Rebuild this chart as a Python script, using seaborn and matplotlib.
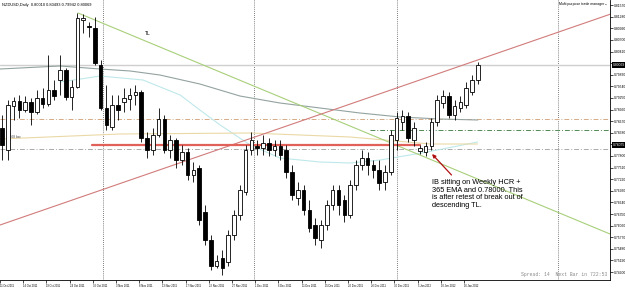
import matplotlib
matplotlib.use("Agg")
import matplotlib.pyplot as plt
import matplotlib.transforms as mtransforms
import numpy as np
import pandas as pd
import seaborn as sns

# ---------------- data (NZDUSD daily) ----------------
opens = [0.78500, 0.77950, 0.79050, 0.79175, 0.78950, 0.79150, 0.78900, 0.79250, 0.79100, 0.79450,
         0.79700, 0.79950, 0.79275, 0.79525, 0.81200, 0.81050, 0.81000, 0.80075, 0.79000, 0.78525,
         0.79075, 0.79150, 0.79225, 0.79325, 0.79400, 0.78250, 0.77950, 0.78325, 0.78725, 0.77950,
         0.78200, 0.77700, 0.77900, 0.77325, 0.77500, 0.76400, 0.75700, 0.75050, 0.75250, 0.75150,
         0.75825, 0.76325, 0.76900, 0.77950, 0.78050, 0.78000, 0.78125, 0.77950, 0.78050, 0.77950,
         0.77400, 0.76750, 0.76950, 0.76450, 0.76075, 0.75700, 0.76075, 0.76575, 0.76950, 0.76700,
         0.76325, 0.77075, 0.77575, 0.77750, 0.77575, 0.77450, 0.77150, 0.77400, 0.78200, 0.78650,
         0.78800, 0.78200, 0.77925, 0.77900, 0.78050, 0.78650, 0.79125, 0.79300, 0.78825, 0.79000,
         0.79075, 0.79400, 0.79700]
highs = [0.78825, 0.79200, 0.79275, 0.79325, 0.79300, 0.79250, 0.79450, 0.79500, 0.80325, 0.79700,
         0.80325, 0.80000, 0.79700, 0.81375, 0.81350, 0.81150, 0.81275, 0.80200, 0.79575, 0.79325,
         0.79325, 0.79500, 0.79500, 0.79575, 0.79450, 0.78400, 0.78500, 0.79000, 0.78825, 0.78325,
         0.78250, 0.78075, 0.78000, 0.77650, 0.77575, 0.76575, 0.75825, 0.75325, 0.75450, 0.75950,
         0.76450, 0.77075, 0.78075, 0.78400, 0.78200, 0.78325, 0.78250, 0.78200, 0.78200, 0.78075,
         0.77575, 0.77150, 0.77075, 0.76700, 0.76250, 0.76200, 0.76700, 0.77075, 0.77075, 0.76825,
         0.77200, 0.77700, 0.77950, 0.77900, 0.77700, 0.77700, 0.77575, 0.78450, 0.78900, 0.78950,
         0.78900, 0.78650, 0.78075, 0.78150, 0.78750, 0.79325, 0.79450, 0.79400, 0.79200, 0.79300,
         0.79650, 0.79825, 0.80150]
lows = [0.77700, 0.77700, 0.78700, 0.78750, 0.78900, 0.78575, 0.78850, 0.79000, 0.79050, 0.79200,
        0.79325, 0.79200, 0.78950, 0.79500, 0.80875, 0.80775, 0.80075, 0.78950, 0.78450, 0.78450,
        0.78700, 0.78900, 0.78950, 0.79075, 0.78150, 0.77750, 0.77825, 0.78275, 0.77875, 0.77750,
        0.77500, 0.77575, 0.77200, 0.77150, 0.76075, 0.75575, 0.74950, 0.75000, 0.74825, 0.75050,
        0.75700, 0.76200, 0.76825, 0.77825, 0.77825, 0.77825, 0.77800, 0.77800, 0.77700, 0.77250,
        0.76700, 0.76575, 0.76325, 0.75900, 0.75575, 0.75500, 0.75950, 0.76450, 0.76325, 0.76150,
        0.76250, 0.76950, 0.77450, 0.77325, 0.77250, 0.76950, 0.76950, 0.77325, 0.77950, 0.78450,
        0.78150, 0.78050, 0.77850, 0.77800, 0.77950, 0.78550, 0.79000, 0.78750, 0.78700, 0.78900,
        0.79000, 0.79325, 0.79600]
closes = [0.78075, 0.79075, 0.79175, 0.78950, 0.79150, 0.78900, 0.79250, 0.79100, 0.79450, 0.79300,
          0.79950, 0.79275, 0.79525, 0.81250, 0.81250, 0.81025, 0.80125, 0.79000, 0.78575, 0.79075,
          0.78950, 0.79250, 0.79325, 0.79400, 0.78250, 0.77950, 0.78325, 0.78725, 0.77950, 0.78200,
          0.77700, 0.77900, 0.77325, 0.77450, 0.76200, 0.75700, 0.75050, 0.75175, 0.75000, 0.75825,
          0.76325, 0.76950, 0.77950, 0.78200, 0.78000, 0.78125, 0.77950, 0.78050, 0.77825, 0.77400,
          0.76825, 0.76950, 0.76450, 0.76000, 0.75750, 0.76075, 0.76575, 0.76950, 0.76575, 0.76325,
          0.77075, 0.77575, 0.77750, 0.77575, 0.77450, 0.77125, 0.77400, 0.78325, 0.78750, 0.78800,
          0.78250, 0.78500, 0.78000, 0.78050, 0.78650, 0.79200, 0.79300, 0.78825, 0.79050, 0.79150,
          0.79500, 0.79700, 0.80069]

date_labels = ["11 Oct 2011", "14 Oct 2011", "19 Oct 2011", "24 Oct 2011", "30 Oct 2011",
               "3 Nov 2011", "8 Nov 2011", "13 Nov 2011", "17 Nov 2011", "22 Nov 2011",
               "27 Nov 2011", "1 Dec 2011", "6 Dec 2011", "11 Dec 2011", "15 Dec 2011",
               "20 Dec 2011", "26 Dec 2011", "30 Dec 2011", "5 Jan 2012", "10 Jan 2012",
               "16 Jan 2012"]
date_label_bars = [4 * k - 0.35 for k in range(len(date_labels))]

price_ticks = [0.81570, 0.81280, 0.80990, 0.80700, 0.80410, 0.80120, 0.79830, 0.79540,
               0.79250, 0.78960, 0.78670, 0.78380, 0.78090, 0.77800, 0.77510, 0.77220,
               0.76930, 0.76640, 0.76350, 0.76060, 0.75770, 0.75480, 0.75190, 0.74900]

# moving averages (bar position, price)
ma_slow_bar = [-0.34, 10, 16.9, 22.1, 27.2, 34.1, 41, 47.9, 54.8, 61.7, 68.6, 75.5, 82]
ma_slow_val = [0.79975, 0.80050, 0.79975, 0.79925, 0.79825, 0.79600, 0.79300, 0.79125,
               0.79000, 0.78875, 0.78775, 0.78725, 0.78700]
ma_fast_bar = [10, 14.7, 16.9, 24.3, 30.7, 34.1, 37.6, 42.8, 47.9, 54.8, 60, 65.2, 73.3, 82]
ma_fast_val = [0.79650, 0.79750, 0.79800, 0.79700, 0.79325, 0.78950, 0.78575, 0.78075,
               0.77750, 0.77650, 0.77625, 0.77700, 0.77900, 0.78150]
ema365_bar = [-0.34, 20.3, 42.8, 60, 73.8, 82]
ema365_val = [0.78225, 0.78350, 0.78375, 0.78275, 0.78100, 0.78100]

# drawn objects
tl_bars = [13.1, 104.8]
tl_prices = [0.81375, 0.75850]
red_tl_bars = [-0.345, 104.8]
red_tl_prices = [0.76075, 0.81343]
support_level = 0.78075
support_bars = [15.5, 72]
level_tan = 0.78725
level_green = 0.78450
level_green_start = 63.4
level_gray = 0.77975
separator_bars = [17.4, 43.4, 68.1, 95.9]
arrow_from = (77.8, 0.77275)
arrow_to = (73.8, 0.77900)
note_pos = (74.1, 0.77225)
note_text = ("IB sitting on Weekly HCR +\n365 EMA and 0.78000. This\n"
             "is after retest of break out of\ndescending TL.")

# ---------------- figure ----------------
sns.set_theme(style="white")
plt.rcParams['font.family'] = ['Liberation Sans', 'DejaVu Sans']

W, H = 625, 288
fig = plt.figure(figsize=(W / 100, H / 100), dpi=100)
fig.patch.set_facecolor("white")
ax = fig.add_axes([0.0, 1 - 280 / H, 610 / W, 280 / H])
ax.set_facecolor("white")
ax.set_xlim(-0.345, 104.8)
ax.set_ylim(0.7470, 0.8170)

# separators
for s in separator_bars:
    ax.axvline(s, color="#555555", lw=0.6, ls=(0, (1, 1.5)), zorder=1)

# horizontal levels
ax.axhline(closes[-1], color="#cfcfcf", lw=1.0, zorder=1)
ax.axhline(level_tan, color="#d6ab86", lw=0.7, ls=(0, (5, 2, 1, 2)), zorder=1)
ax.axhline(level_gray, color="#aaaaaa", lw=0.7, ls=(0, (5, 2, 1, 2)), zorder=1)
ax.plot([level_green_start, 104.8], [level_green, level_green], color="#4f8a55", lw=0.7,
        ls=(0, (5, 2, 1, 2)), zorder=1)

# moving averages
sns.lineplot(x=ma_slow_bar, y=ma_slow_val, ax=ax, color="#93a3a0", lw=0.8, zorder=2)
sns.lineplot(x=ma_fast_bar, y=ma_fast_val, ax=ax, color="#bfe8ea", lw=0.8, zorder=2)
sns.lineplot(x=ema365_bar, y=ema365_val, ax=ax, color="#ead9a6", lw=0.8, zorder=2)

# trend lines
ax.plot(tl_bars, tl_prices, color="#a8cf7a", lw=0.8, zorder=2)
ax.plot(red_tl_bars, red_tl_prices, color="#d27b7b", lw=0.8, zorder=2)
ax.plot(support_bars, [support_level, support_level], color="#e0605a", lw=1.6, zorder=2)

# candles
df = pd.DataFrame(dict(i=np.arange(len(closes)), o=opens, h=highs, l=lows, c=closes))
up = df.c >= df.o
ax.vlines(df.i, df.l, df.h, color="black", lw=0.6, zorder=3)
ax.bar(df.i[up], (df.c - df.o)[up], bottom=df.o[up], width=0.62, color="white",
       edgecolor="black", lw=0.6, zorder=4)
ax.bar(df.i[~up], (df.o - df.c)[~up], bottom=df.c[~up], width=0.62, color="black",
       edgecolor="black", lw=0.6, zorder=4)

# annotation
ax.annotate("", xy=arrow_to, xytext=arrow_from,
            arrowprops=dict(arrowstyle="-|>", color="#b01010", lw=0.9, mutation_scale=5),
            zorder=5)
ax.text(note_pos[0], note_pos[1], note_text, fontsize=5.3, va="top", ha="left",
        linespacing=1.15, color="black", zorder=6)
ax.text(24.7, 0.8085, "TL", fontsize=3.5, color="black", ha="left", va="center")
ax.text(1.0, 0.78275, "9968 bsc", fontsize=2.3, color="#444444", ha="left", va="center")

# header texts
ax.text(0.003, 0.988, "NZDUSD,Daily  0.80010 0.80493 0.79942 0.80069", transform=ax.transAxes,
        fontsize=2.9, va="top", ha="left", color="black")
ax.text(0.995, 0.992, "Multi purpose trade manager \u25aa", transform=ax.transAxes,
        fontsize=2.5, va="top", ha="right", color="black")
ax.text(0.995, 0.012, "Spread: 14  Next Bar in 722:53", transform=ax.transAxes,
        fontsize=3.4, va="bottom", ha="right", color="#8a8a8a", family="Liberation Mono")

# axes styling
for side in ["top", "left"]:
    ax.spines[side].set_visible(False)
for side in ["right", "bottom"]:
    ax.spines[side].set_visible(True)
    ax.spines[side].set_color("black")
    ax.spines[side].set_linewidth(0.6)

highlighted = [closes[-1], support_level]
ax.yaxis.tick_right()
ax.set_yticks(price_ticks)
ax.set_yticklabels(["" if min(abs(p - h) for h in highlighted) < 0.0013 else f"{p:.5f}"
                    for p in price_ticks])
ax.set_xticks(date_label_bars)
ax.set_xticklabels(date_labels, ha="left")
ax.tick_params(axis="y", which="both", right=True, left=False, length=2, width=0.5,
               labelsize=2.4, pad=1, colors="black")
ax.tick_params(axis="x", which="both", bottom=True, length=2, width=0.5,
               labelsize=1.9, pad=0.6, colors="black")
ax.set_xlabel("")
ax.set_ylabel("")
ax.grid(False)

# highlighted price labels
blend = mtransforms.blended_transform_factory(ax.transAxes, ax.transData)
for val in highlighted:
    ax.text(1.004, val, f"{val:.5f}", transform=blend, fontsize=2.4, color="white",
            ha="left", va="center", clip_on=False, zorder=10,
            bbox=dict(boxstyle="square,pad=0.25", fc="black", ec="black", lw=0))

fig.savefig("out.png", dpi=100)
